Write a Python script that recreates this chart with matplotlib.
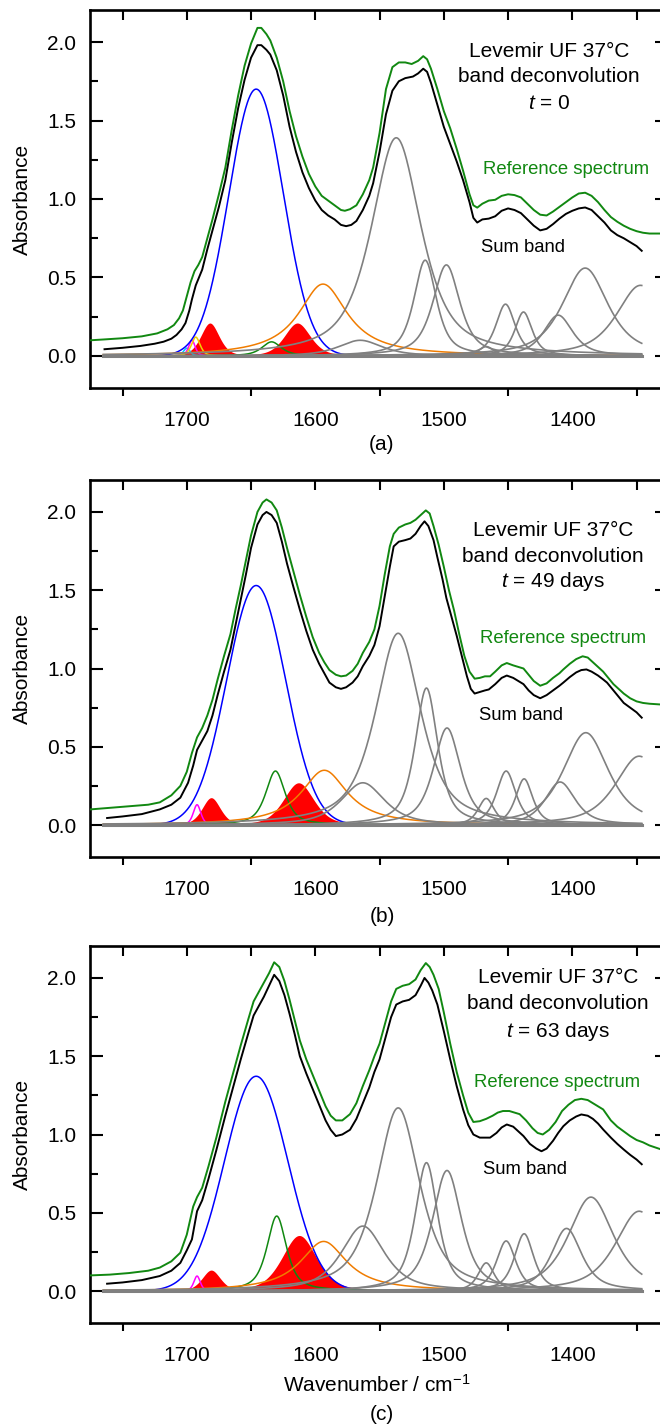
import numpy as np
import matplotlib
matplotlib.use('Agg')
import matplotlib.pyplot as plt
from matplotlib.ticker import MultipleLocator

plt.rcParams['font.family'] = ['Liberation Sans', 'DejaVu Sans']
plt.rcParams['mathtext.fontset'] = 'custom'
plt.rcParams['mathtext.rm'] = 'Liberation Sans'
plt.rcParams['mathtext.it'] = 'Liberation Sans:italic'

# ---- panel (a): t = 0 ----
sum_wn_a = [1764, 1750, 1736, 1725, 1718, 1712, 1708, 1704, 1701, 1698, 1696, 1693, 1691, 1688, 1684, 1680,
            1675, 1670, 1665, 1660, 1655, 1650, 1645, 1642, 1638, 1635, 1630, 1625, 1620, 1615, 1610, 1605,
            1600, 1595, 1590, 1585, 1580, 1576, 1572, 1568, 1563, 1558, 1555, 1550, 1545, 1540, 1535, 1530,
            1524, 1520, 1516, 1513, 1510, 1505, 1500, 1495, 1490, 1485, 1480, 1477, 1474, 1470, 1465, 1460,
            1455, 1450, 1445, 1440, 1435, 1430, 1425, 1420, 1415, 1410, 1405, 1400, 1395, 1390, 1385, 1380,
            1375, 1370, 1365, 1360, 1355, 1350, 1346]
sum_a = [0.043, 0.052, 0.064, 0.078, 0.091, 0.11, 0.134, 0.17, 0.21, 0.29, 0.36, 0.45, 0.49, 0.55, 0.68, 0.80,
         0.95, 1.12, 1.36, 1.58, 1.76, 1.90, 1.98, 1.98, 1.95, 1.92, 1.82, 1.66, 1.46, 1.30, 1.17, 1.07,
         0.99, 0.93, 0.895, 0.87, 0.835, 0.827, 0.835, 0.86, 0.93, 1.02, 1.10, 1.30, 1.54, 1.69, 1.75, 1.77,
         1.78, 1.80, 1.83, 1.81, 1.74, 1.60, 1.46, 1.35, 1.24, 1.12, 0.98, 0.88, 0.85, 0.87, 0.875, 0.89,
         0.925, 0.94, 0.93, 0.91, 0.87, 0.83, 0.80, 0.81, 0.84, 0.875, 0.905, 0.925, 0.94, 0.946, 0.93, 0.89,
         0.85, 0.80, 0.77, 0.75, 0.725, 0.70, 0.67]
ref_wn_a = [1775, 1765, 1750, 1735, 1723, 1715, 1710, 1706, 1703, 1700, 1697, 1694, 1691, 1688, 1684, 1680,
            1675, 1670, 1665, 1660, 1655, 1650, 1645, 1642, 1638, 1635, 1630, 1625, 1620, 1615, 1610, 1605,
            1600, 1595, 1590, 1585, 1580, 1577, 1573, 1568, 1563, 1558, 1555, 1550, 1545, 1540, 1535, 1530,
            1525, 1520, 1516, 1513, 1510, 1505, 1500, 1495, 1490, 1485, 1480, 1477, 1474, 1470, 1465, 1460,
            1455, 1450, 1445, 1440, 1435, 1430, 1425, 1420, 1415, 1410, 1405, 1400, 1395, 1390, 1385, 1380,
            1375, 1370, 1365, 1360, 1355, 1350, 1345, 1340, 1331]
ref_a = [0.10, 0.105, 0.113, 0.125, 0.144, 0.17, 0.197, 0.24, 0.29, 0.38, 0.47, 0.54, 0.58, 0.63, 0.75, 0.87,
         1.03, 1.20, 1.44, 1.66, 1.85, 1.99, 2.09, 2.09, 2.05, 2.01, 1.90, 1.75, 1.56, 1.40, 1.27, 1.16,
         1.08, 1.02, 0.99, 0.96, 0.93, 0.925, 0.935, 0.96, 1.03, 1.12, 1.20, 1.42, 1.70, 1.84, 1.87, 1.87,
         1.86, 1.88, 1.91, 1.89, 1.83, 1.70, 1.56, 1.45, 1.32, 1.18, 1.03, 0.96, 0.945, 0.97, 0.99, 0.995,
         1.02, 1.03, 1.025, 1.01, 0.97, 0.93, 0.90, 0.895, 0.92, 0.95, 0.98, 1.01, 1.035, 1.04, 1.02, 0.98,
         0.93, 0.885, 0.855, 0.83, 0.81, 0.795, 0.785, 0.78, 0.78]
kind_a = ['turn_a', 'turn_b', 'turn_c', 'aggregate', 'helix', 'unordered', 'aggregate', 'sidechain',
          'other', 'other', 'other', 'other', 'other', 'other', 'other', 'other', 'other', 'other']
center_a = [1700, 1696, 1693, 1682, 1646, 1634, 1614, 1594, 1565, 1537, 1514.5, 1498, 1467, 1452, 1438, 1411, 1390, 1347]
height_a = [0.05, 0.10, 0.12, 0.21, 1.70, 0.09, 0.21, 0.458, 0.10, 1.39, 0.61, 0.58, 0.06, 0.33, 0.28, 0.26, 0.56, 0.45]
fwhm_a = [6, 6, 8, 17, 50, 18, 24, 46, 40, 46, 21, 25, 14, 18, 16, 27, 42, 44]

# ---- panel (b): t = 49 days ----
sum_wn_b = [1762, 1750, 1735, 1721, 1712, 1705, 1699, 1695, 1692, 1688, 1684, 1680, 1676, 1671, 1666, 1662,
            1658, 1654, 1650, 1645, 1641, 1638, 1634, 1630, 1626, 1622, 1617, 1612, 1607, 1602, 1597, 1593,
            1589, 1584, 1580, 1576, 1571, 1567, 1563, 1558, 1554, 1550, 1546, 1542, 1539, 1535, 1530, 1526,
            1522, 1518, 1515, 1512, 1508, 1505, 1501, 1498, 1494, 1490, 1486, 1482, 1479, 1476, 1472, 1468,
            1465, 1460, 1455, 1451, 1446, 1442, 1438, 1434, 1430, 1425, 1420, 1415, 1410, 1407, 1402, 1397,
            1393, 1389, 1385, 1380, 1376, 1373, 1368, 1364, 1360, 1355, 1350, 1346]
sum_b = [0.045, 0.055, 0.07, 0.10, 0.13, 0.175, 0.27, 0.38, 0.48, 0.54, 0.60, 0.70, 0.83, 0.98, 1.12, 1.28,
         1.44, 1.60, 1.77, 1.92, 1.98, 2.00, 1.98, 1.93, 1.81, 1.67, 1.52, 1.375, 1.24, 1.12, 1.03, 0.97,
         0.91, 0.88, 0.87, 0.88, 0.91, 0.95, 1.015, 1.08, 1.15, 1.27, 1.46, 1.65, 1.78, 1.81, 1.82, 1.83,
         1.86, 1.91, 1.94, 1.91, 1.82, 1.71, 1.57, 1.45, 1.33, 1.21, 1.08, 0.95, 0.87, 0.84, 0.85, 0.86,
         0.866, 0.90, 0.94, 0.955, 0.94, 0.92, 0.90, 0.86, 0.83, 0.81, 0.83, 0.86, 0.89, 0.91, 0.945, 0.975,
         0.99, 0.994, 0.98, 0.955, 0.93, 0.91, 0.86, 0.82, 0.78, 0.75, 0.72, 0.686]
ref_wn_b = [1775, 1760, 1745, 1730, 1721, 1712, 1705, 1700, 1696, 1692, 1688, 1684, 1680, 1676, 1671, 1666,
            1662, 1658, 1654, 1650, 1645, 1641, 1638, 1634, 1630, 1626, 1622, 1617, 1612, 1607, 1602, 1597,
            1593, 1589, 1584, 1580, 1576, 1571, 1567, 1563, 1558, 1554, 1550, 1546, 1542, 1539, 1535, 1530,
            1526, 1522, 1518, 1514, 1511, 1508, 1504, 1500, 1496, 1492, 1488, 1484, 1480, 1476, 1472, 1468,
            1464, 1460, 1455, 1451, 1446, 1442, 1438, 1434, 1430, 1425, 1420, 1415, 1410, 1407, 1402, 1397,
            1392, 1388, 1384, 1380, 1376, 1373, 1368, 1364, 1360, 1355, 1350, 1345, 1340, 1331]
ref_b = [0.10, 0.11, 0.12, 0.13, 0.145, 0.19, 0.25, 0.34, 0.46, 0.56, 0.62, 0.70, 0.80, 0.93, 1.08, 1.22,
         1.38, 1.53, 1.69, 1.85, 2.00, 2.06, 2.08, 2.06, 2.01, 1.90, 1.77, 1.62, 1.47, 1.33, 1.20, 1.10,
         1.04, 0.99, 0.96, 0.95, 0.955, 0.985, 1.03, 1.10, 1.17, 1.25, 1.40, 1.60, 1.78, 1.86, 1.90, 1.92,
         1.93, 1.95, 1.98, 2.01, 1.99, 1.91, 1.79, 1.65, 1.50, 1.37, 1.22, 1.08, 0.98, 0.935, 0.94, 0.95,
         0.95, 0.98, 1.02, 1.035, 1.02, 1.01, 1.00, 0.96, 0.92, 0.89, 0.905, 0.94, 0.97, 0.994, 1.03, 1.06,
         1.078, 1.07, 1.04, 1.01, 0.98, 0.95, 0.90, 0.87, 0.84, 0.81, 0.79, 0.78, 0.775, 0.77]
kind_b = ['turn_b', 'aggregate', 'helix', 'unordered', 'aggregate', 'sidechain',
          'other', 'other', 'other', 'other', 'other', 'other', 'other', 'other', 'other', 'other']
center_b = [1692, 1681, 1646, 1631, 1613, 1593, 1563, 1535.5, 1513.5, 1497.5, 1467, 1451.5, 1437.5, 1409.5, 1389.5, 1348]
height_b = [0.13, 0.175, 1.53, 0.345, 0.27, 0.35, 0.27, 1.225, 0.875, 0.62, 0.17, 0.345, 0.295, 0.275, 0.59, 0.44]
fwhm_b = [7, 17, 54, 18, 28, 44, 40, 42, 21, 25, 15, 18, 16, 28, 42, 44]

# ---- panel (c): t = 63 days ----
sum_wn_c = [1762, 1750, 1735, 1721, 1712, 1705, 1700, 1696, 1692, 1688, 1683, 1677, 1670, 1664, 1658, 1652,
            1648, 1644, 1640, 1636, 1632, 1628, 1624, 1620, 1616, 1612, 1607, 1602, 1597, 1592, 1588, 1584,
            1579, 1573, 1568, 1563, 1558, 1554, 1550, 1545, 1541, 1537, 1532, 1527, 1522, 1518, 1515, 1512,
            1509, 1505, 1500, 1495, 1490, 1485, 1481, 1477, 1472, 1468, 1464, 1459, 1455, 1451, 1446, 1442,
            1438, 1433, 1428, 1424, 1420, 1415, 1411, 1407, 1402, 1397, 1393, 1388, 1384, 1380, 1376, 1370,
            1365, 1360, 1355, 1350, 1346]
sum_c = [0.047, 0.055, 0.07, 0.096, 0.13, 0.18, 0.26, 0.33, 0.51, 0.58, 0.72, 0.90, 1.12, 1.30, 1.48, 1.65,
         1.76, 1.82, 1.88, 1.95, 2.02, 1.98, 1.89, 1.77, 1.64, 1.50, 1.39, 1.29, 1.19, 1.09, 1.03, 0.99,
         1.00, 1.03, 1.10, 1.20, 1.30, 1.40, 1.48, 1.63, 1.75, 1.83, 1.85, 1.86, 1.89, 1.95, 2.00, 1.97,
         1.92, 1.83, 1.66, 1.48, 1.31, 1.16, 1.06, 1.00, 0.98, 0.98, 0.98, 1.01, 1.045, 1.064, 1.05, 1.02,
         0.99, 0.94, 0.91, 0.893, 0.91, 0.96, 1.01, 1.053, 1.09, 1.115, 1.128, 1.12, 1.10, 1.07, 1.032, 0.98,
         0.94, 0.904, 0.87, 0.84, 0.81]
ref_wn_c = [1775, 1760, 1745, 1730, 1721, 1712, 1705, 1700, 1695, 1692, 1688, 1683, 1677, 1670, 1664, 1658,
            1652, 1648, 1644, 1640, 1636, 1632, 1628, 1624, 1620, 1616, 1612, 1607, 1602, 1597, 1592, 1588,
            1584, 1579, 1573, 1568, 1563, 1558, 1554, 1550, 1545, 1541, 1537, 1532, 1527, 1522, 1518, 1514,
            1511, 1508, 1504, 1500, 1495, 1490, 1485, 1481, 1477, 1472, 1467, 1462, 1458, 1454, 1449, 1445,
            1441, 1436, 1431, 1427, 1423, 1418, 1413, 1408, 1403, 1398, 1393, 1388, 1384, 1380, 1376, 1370,
            1365, 1360, 1355, 1350, 1345, 1340, 1331]
ref_c = [0.10, 0.105, 0.115, 0.13, 0.15, 0.19, 0.245, 0.36, 0.54, 0.60, 0.66, 0.80, 0.98, 1.21, 1.39, 1.57,
         1.74, 1.85, 1.91, 1.97, 2.03, 2.10, 2.07, 1.98, 1.86, 1.73, 1.60, 1.48, 1.38, 1.28, 1.18, 1.12,
         1.09, 1.09, 1.13, 1.20, 1.31, 1.41, 1.50, 1.58, 1.73, 1.85, 1.93, 1.95, 1.96, 1.99, 2.05, 2.095,
         2.07, 2.02, 1.93, 1.78, 1.58, 1.40, 1.25, 1.14, 1.08, 1.085, 1.10, 1.12, 1.14, 1.15, 1.15, 1.14,
         1.13, 1.09, 1.04, 1.01, 1.00, 1.03, 1.08, 1.15, 1.19, 1.22, 1.228, 1.22, 1.20, 1.18, 1.16, 1.09,
         1.05, 1.02, 0.99, 0.965, 0.95, 0.93, 0.905]
kind_c = ['turn_b', 'aggregate', 'helix', 'unordered', 'aggregate', 'sidechain',
          'other', 'other', 'other', 'other', 'other', 'other', 'other', 'other', 'other', 'other']
center_c = [1692, 1681, 1646, 1630, 1612.5, 1593.5, 1563, 1535.5, 1513.5, 1497.5, 1467, 1451.5, 1437.5, 1404.5, 1385.5, 1348]
height_c = [0.096, 0.134, 1.372, 0.479, 0.355, 0.317, 0.415, 1.17, 0.82, 0.77, 0.18, 0.32, 0.366, 0.40, 0.60, 0.51]
fwhm_c = [6, 17, 58, 18, 32, 44, 40, 40, 21, 27, 15, 18, 18, 28, 42, 44]

time_labels = ['$t$ = 0', '$t$ = 49 days', '$t$ = 63 days']
panel_tags = ['(a)', '(b)', '(c)']

# 样式
kind_color = {'turn_a': '#00c8ff', 'turn_b': '#ff00ff', 'turn_c': '#f0d000', 'aggregate': '#ff0000',
              'helix': '#0000ff', 'unordered': '#118811', 'sidechain': '#f07c00', 'other': '#808080'}
# Lorentzian fraction of each band shape
kind_eta = {'helix': 0.0, 'aggregate': 0.45, 'unordered': 0.7, 'sidechain': 1.0, 'other': 0.7}
REF_GREEN = '#118811'


def band(x, c, h, w, eta):
    u = (x - c) / (w / 2.0)
    return h * (eta / (1 + u ** 2) + (1 - eta) * np.exp(-np.log(2) * u ** 2))


panels = [
    (sum_wn_a, sum_a, ref_wn_a, ref_a, kind_a, center_a, height_a, fwhm_a),
    (sum_wn_b, sum_b, ref_wn_b, ref_b, kind_b, center_b, height_b, fwhm_b),
    (sum_wn_c, sum_c, ref_wn_c, ref_c, kind_c, center_c, height_c, fwhm_c),
]

# text positions (wavenumber, absorbance)
title_pos = [(1418, [1.94, 1.78, 1.61]), (1415, [1.88, 1.715, 1.554]), (1411, [2.0, 1.836, 1.66])]
refbox_pos = [(1405, 1.19), (1407, 1.19), (1411.7, 1.33)]
sumbox_pos = [(1438.5, 0.69), (1440, 0.70), (1436.7, 0.777)]

W, H = 660, 1428
fig = plt.figure(figsize=(W / 100, H / 100), dpi=100)
axes_px = [(10, 388), (480, 857), (946, 1323)]
tag_y = [444, 916.7, 1415]

x = np.linspace(1765, 1346, 1200)
for i, (top, bot) in enumerate(axes_px):
    ax = fig.add_axes([90 / W, 1 - bot / H, 571 / W, (bot - top) / H])
    swn, sab, rwn, rab, kinds, cen, hgt, fw = panels[i]

    # red filled bands first
    for k, c, h, w in zip(kinds, cen, hgt, fw):
        if k == 'aggregate':
            ax.fill_between(x, 0, band(x, c, h, w, kind_eta[k]), color=kind_color[k], lw=0, zorder=1)
    for k, c, h, w in zip(kinds, cen, hgt, fw):
        if k not in ('aggregate', 'other'):
            ax.plot(x, band(x, c, h, w, kind_eta.get(k, 0.5)), color=kind_color[k], lw=1.1, zorder=2)
    for k, c, h, w in zip(kinds, cen, hgt, fw):
        if k == 'other':
            ax.plot(x, band(x, c, h, w, kind_eta[k]), color=kind_color[k], lw=1.2, zorder=3)
    ax.plot([x[0], x[-1]], [0, 0], color=kind_color['other'], lw=2.2, zorder=3)

    ax.plot(rwn, rab, color=REF_GREEN, lw=1.4, zorder=5)
    ax.plot(swn, sab, color='black', lw=1.4, zorder=6)

    ax.set_xlim(1775.3, 1331)
    ax.set_ylim(-0.204, 2.204)
    ax.xaxis.set_major_locator(MultipleLocator(100))
    ax.xaxis.set_minor_locator(MultipleLocator(50))
    ax.yaxis.set_major_locator(MultipleLocator(0.5))
    ax.yaxis.set_minor_locator(MultipleLocator(0.25))
    ax.yaxis.set_major_formatter(matplotlib.ticker.FormatStrFormatter('%.1f'))
    ax.tick_params(axis='y', which='major', direction='in', length=9.5, width=1.5, pad=10, labelsize=15)
    ax.tick_params(axis='y', which='minor', direction='in', length=5.5, width=1.5)
    ax.tick_params(axis='x', which='major', direction='in', length=0, pad=16.5, labelsize=15)
    ax.tick_params(axis='x', which='minor', direction='out', length=5.5, width=1.5)
    for s in ax.spines.values():
        s.set_linewidth(1.9)

    sx = ax.secondary_xaxis('top')
    sx.xaxis.set_major_locator(MultipleLocator(50))
    sx.tick_params(direction='in', length=7, width=1.5, labeltop=False)
    sy = ax.secondary_yaxis('right')
    sy.yaxis.set_major_locator(MultipleLocator(0.5))
    sy.tick_params(direction='in', length=4, width=1.5, labelright=False)

    tx, tys = title_pos[i]
    for line, ty in zip(['Levemir UF 37\u00b0C', 'band deconvolution', time_labels[i]], tys):
        ax.text(tx, ty, line, fontsize=15, ha='center', va='center')
    ax.text(*refbox_pos[i], 'Reference spectrum', color=REF_GREEN, fontsize=13.3, ha='center', va='center')
    ax.text(*sumbox_pos[i], 'Sum band', fontsize=13.3, ha='center', va='center')

    fig.text(22.5 / W, 1 - (top + bot) / 2 / H, 'Absorbance', rotation=90, fontsize=15,
             ha='center', va='center')
    fig.text(382 / W, 1 - tag_y[i] / H, panel_tags[i], fontsize=15, ha='center', va='center')

fig.text(377 / W, 1 - 1391.7 / H, 'Wavenumber / cm$^{-1}$', fontsize=15, ha='center', va='baseline')

fig.savefig('out.png', dpi=100)
